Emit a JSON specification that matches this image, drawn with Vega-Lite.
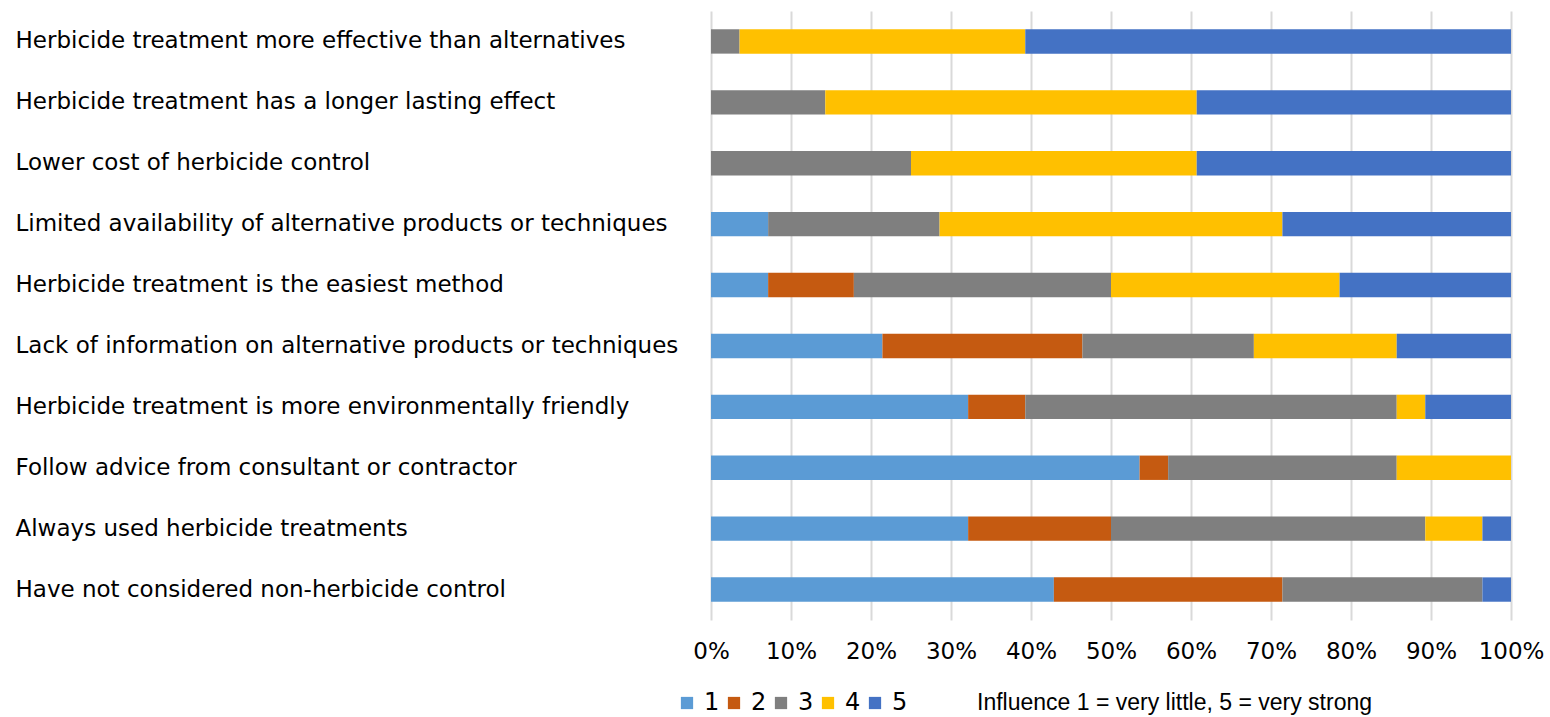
{
  "$schema": "https://vega.github.io/schema/vega-lite/v6.json",
  "width": 800,
  "height": 609,
  "autosize": {"type": "none"},
  "padding": {"left": 711, "top": 11, "right": 39, "bottom": 97},
  "background": "white",
  "config": {
    "view": {"stroke": null},
    "font": "DejaVu Sans",
    "axis": {"labelColor": "#000000", "labelFont": "DejaVu Sans"},
    "legend": {"labelColor": "#000000", "titleColor": "#000000", "labelFont": "DejaVu Sans", "titleFont": "Liberation Sans"}
  },
  "data": {
    "values": [
      {"q": "Herbicide treatment more effective than alternatives", "level": "1", "n": 0},
      {"q": "Herbicide treatment more effective than alternatives", "level": "2", "n": 0},
      {"q": "Herbicide treatment more effective than alternatives", "level": "3", "n": 1},
      {"q": "Herbicide treatment more effective than alternatives", "level": "4", "n": 10},
      {"q": "Herbicide treatment more effective than alternatives", "level": "5", "n": 17},
      {"q": "Herbicide treatment has a longer lasting effect", "level": "1", "n": 0},
      {"q": "Herbicide treatment has a longer lasting effect", "level": "2", "n": 0},
      {"q": "Herbicide treatment has a longer lasting effect", "level": "3", "n": 4},
      {"q": "Herbicide treatment has a longer lasting effect", "level": "4", "n": 13},
      {"q": "Herbicide treatment has a longer lasting effect", "level": "5", "n": 11},
      {"q": "Lower cost of herbicide control", "level": "1", "n": 0},
      {"q": "Lower cost of herbicide control", "level": "2", "n": 0},
      {"q": "Lower cost of herbicide control", "level": "3", "n": 7},
      {"q": "Lower cost of herbicide control", "level": "4", "n": 10},
      {"q": "Lower cost of herbicide control", "level": "5", "n": 11},
      {"q": "Limited availability of alternative products or techniques", "level": "1", "n": 2},
      {"q": "Limited availability of alternative products or techniques", "level": "2", "n": 0},
      {"q": "Limited availability of alternative products or techniques", "level": "3", "n": 6},
      {"q": "Limited availability of alternative products or techniques", "level": "4", "n": 12},
      {"q": "Limited availability of alternative products or techniques", "level": "5", "n": 8},
      {"q": "Herbicide treatment is the easiest method", "level": "1", "n": 2},
      {"q": "Herbicide treatment is the easiest method", "level": "2", "n": 3},
      {"q": "Herbicide treatment is the easiest method", "level": "3", "n": 9},
      {"q": "Herbicide treatment is the easiest method", "level": "4", "n": 8},
      {"q": "Herbicide treatment is the easiest method", "level": "5", "n": 6},
      {"q": "Lack of information on alternative products or techniques", "level": "1", "n": 6},
      {"q": "Lack of information on alternative products or techniques", "level": "2", "n": 7},
      {"q": "Lack of information on alternative products or techniques", "level": "3", "n": 6},
      {"q": "Lack of information on alternative products or techniques", "level": "4", "n": 5},
      {"q": "Lack of information on alternative products or techniques", "level": "5", "n": 4},
      {"q": "Herbicide treatment is more environmentally friendly", "level": "1", "n": 9},
      {"q": "Herbicide treatment is more environmentally friendly", "level": "2", "n": 2},
      {"q": "Herbicide treatment is more environmentally friendly", "level": "3", "n": 13},
      {"q": "Herbicide treatment is more environmentally friendly", "level": "4", "n": 1},
      {"q": "Herbicide treatment is more environmentally friendly", "level": "5", "n": 3},
      {"q": "Follow advice from consultant or contractor", "level": "1", "n": 15},
      {"q": "Follow advice from consultant or contractor", "level": "2", "n": 1},
      {"q": "Follow advice from consultant or contractor", "level": "3", "n": 8},
      {"q": "Follow advice from consultant or contractor", "level": "4", "n": 4},
      {"q": "Follow advice from consultant or contractor", "level": "5", "n": 0},
      {"q": "Always used herbicide treatments", "level": "1", "n": 9},
      {"q": "Always used herbicide treatments", "level": "2", "n": 5},
      {"q": "Always used herbicide treatments", "level": "3", "n": 11},
      {"q": "Always used herbicide treatments", "level": "4", "n": 2},
      {"q": "Always used herbicide treatments", "level": "5", "n": 1},
      {"q": "Have not considered non-herbicide control", "level": "1", "n": 12},
      {"q": "Have not considered non-herbicide control", "level": "2", "n": 8},
      {"q": "Have not considered non-herbicide control", "level": "3", "n": 7},
      {"q": "Have not considered non-herbicide control", "level": "4", "n": 0},
      {"q": "Have not considered non-herbicide control", "level": "5", "n": 1}
    ]
  },
  "mark": {"type": "bar"},
  "encoding": {
    "y": {
      "field": "q",
      "type": "nominal",
      "sort": null,
      "title": null,
      "scale": {"paddingInner": 0.6, "paddingOuter": 0.3},
      "axis": {
        "labelAlign": "left",
        "labelPadding": 696,
        "labelFontSize": 23,
        "labelLimit": 0,
        "ticks": false,
        "domain": false,
        "grid": false
      }
    },
    "x": {
      "field": "n",
      "type": "quantitative",
      "stack": "normalize",
      "title": null,
      "scale": {"domain": [0, 1], "nice": false},
      "axis": {
        "format": "%",
        "values": [0, 0.1, 0.2, 0.3, 0.4, 0.5, 0.6, 0.7, 0.8, 0.9, 1],
        "labelOverlap": false,
        "labelFlush": false,
        "labelFontSize": 23,
        "labelPadding": 20,
        "ticks": false,
        "domain": false,
        "grid": true,
        "gridColor": "#d9d9d9",
        "gridWidth": 2
      }
    },
    "color": {
      "field": "level",
      "type": "nominal",
      "scale": {
        "domain": ["1", "2", "3", "4", "5"],
        "range": ["#5B9BD5", "#C55A11", "#7F7F7F", "#FFC000", "#4472C4"]
      },
      "legend": {
        "orient": "none",
        "legendX": -36,
        "legendY": 680,
        "direction": "horizontal",
        "title": "Influence 1 = very little, 5 = very strong",
        "titleOrient": "right",
        "titleFontSize": 23,
        "titleFontWeight": "normal",
        "titleLimit": 0,
        "titlePadding": 70,
        "titleBaseline": "middle",
        "labelFontSize": 24,
        "symbolType": "square",
        "symbolSize": 150,
        "symbolStrokeWidth": 0,
        "symbolOpacity": 1,
        "labelOffset": 5,
        "columnPadding": 2
      }
    },
    "order": {"field": "level", "type": "ordinal"}
  }
}
